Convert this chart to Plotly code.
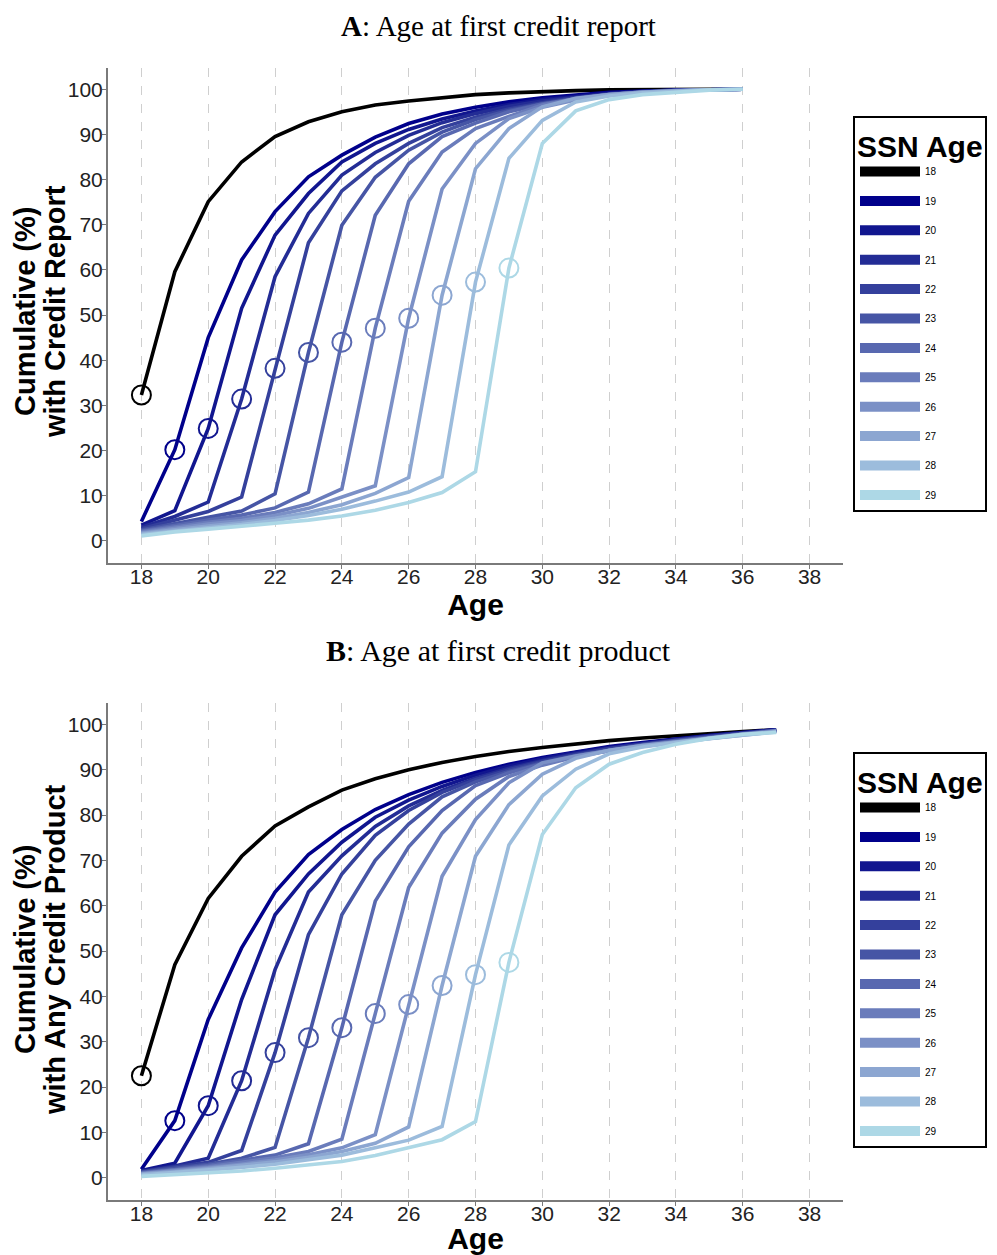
import plotly.graph_objects as go

# page offset of the plot div (default body margin)
OFF = 8
W, H = 997 - OFF, 1255 - OFF

ssn_ages = [18, 19, 20, 21, 22, 23, 24, 25, 26, 27, 28, 29]
colors = ["#000000", "#00008B", "#11168F", "#232C95", "#34409C", "#4655A5", "#5868B0",
          "#6A7CBB", "#7B90C6", "#8CA6D1", "#9CBCDC", "#ADD8E6"]

ages_a = list(range(18, 37))
report = {
    18: [32.3, 59.6, 75.1, 83.9, 89.5, 92.8, 95.0, 96.5, 97.4, 98.2, 98.8, 99.2, 99.5, 99.7, 99.85, 99.95, 100, 100, 100],
    19: [4.3, 20.2, 45.0, 62.2, 72.9, 80.6, 85.4, 89.4, 92.4, 94.5, 96.0, 97.2, 98.1, 98.8, 99.3, 99.6, 99.8, 99.9, 100],
    20: [3.5, 6.7, 24.9, 51.5, 67.7, 76.9, 83.9, 88.0, 91.1, 93.4, 95.2, 96.6, 97.7, 98.5, 99.1, 99.5, 99.8, 99.9, 100],
    21: [3.0, 5.4, 8.6, 31.4, 58.5, 72.5, 81.0, 86.0, 89.8, 92.6, 94.6, 96.2, 97.4, 98.3, 99.0, 99.5, 99.8, 99.9, 100],
    22: [2.7, 4.6, 6.5, 9.7, 38.2, 66.0, 77.5, 83.5, 88.0, 91.5, 93.8, 95.6, 97.0, 98.1, 98.9, 99.4, 99.7, 99.9, 100],
    23: [2.4, 3.9, 5.2, 6.6, 10.4, 41.7, 69.9, 80.5, 86.5, 90.5, 93.3, 95.3, 96.8, 97.9, 98.8, 99.4, 99.7, 99.9, 100],
    24: [2.2, 3.5, 4.6, 5.7, 7.3, 10.8, 44.0, 72.1, 83.5, 89.5, 92.5, 95.0, 96.7, 97.9, 98.8, 99.4, 99.7, 99.9, 100],
    25: [2.0, 3.1, 4.1, 5.0, 6.3, 8.2, 11.5, 47.1, 75.2, 86.1, 91.3, 94.0, 96.5, 97.9, 98.8, 99.4, 99.7, 99.9, 100],
    26: [1.8, 2.8, 3.7, 4.5, 5.6, 7.2, 9.6, 12.2, 49.3, 77.9, 88.0, 93.5, 96.0, 97.6, 98.6, 99.3, 99.7, 99.9, 100],
    27: [1.6, 2.5, 3.3, 4.0, 5.0, 6.3, 8.0, 10.5, 14.0, 54.4, 82.4, 91.3, 96.1, 98.0, 98.8, 99.3, 99.6, 99.9, 100],
    28: [1.4, 2.2, 2.9, 3.6, 4.5, 5.6, 7.0, 8.8, 10.8, 14.2, 57.3, 84.7, 93.1, 97.2, 98.5, 99.2, 99.6, 99.9, 100],
    29: [1.1, 2.0, 2.6, 3.2, 3.9, 4.6, 5.5, 6.8, 8.5, 10.7, 15.3, 60.4, 88.0, 95.2, 97.7, 98.8, 99.4, 99.8, 100],
}

ages_b = list(range(18, 38))
product = {
    18: [22.5, 47.0, 61.6, 70.9, 77.6, 81.8, 85.5, 88.0, 90.0, 91.6, 92.9, 94.0, 94.9, 95.7, 96.4, 97.0, 97.5, 98.0, 98.4, 98.8],
    19: [1.9, 12.6, 34.9, 50.7, 63.0, 71.3, 76.8, 81.2, 84.5, 87.2, 89.4, 91.2, 92.7, 94.0, 95.1, 96.0, 96.8, 97.5, 98.2, 98.8],
    20: [1.6, 3.2, 15.9, 39.3, 58.0, 67.0, 74.0, 79.5, 83.3, 86.3, 88.8, 90.8, 92.4, 93.8, 94.9, 95.9, 96.7, 97.5, 98.2, 98.8],
    21: [1.4, 2.6, 4.3, 21.4, 45.9, 63.0, 71.0, 77.5, 82.0, 85.4, 88.1, 90.3, 92.0, 93.5, 94.7, 95.7, 96.6, 97.4, 98.1, 98.7],
    22: [1.3, 2.3, 3.4, 6.0, 27.6, 53.6, 67.0, 75.5, 81.0, 85.0, 87.8, 90.0, 91.8, 93.3, 94.6, 95.6, 96.5, 97.3, 98.0, 98.7],
    23: [1.2, 2.0, 3.0, 4.3, 6.7, 30.9, 58.0, 70.0, 78.0, 84.0, 87.3, 89.6, 91.5, 93.1, 94.4, 95.5, 96.4, 97.2, 97.9, 98.6],
    24: [1.1, 1.8, 2.7, 3.8, 5.0, 7.5, 33.1, 61.0, 73.0, 81.0, 86.5, 89.3, 91.3, 93.0, 94.3, 95.4, 96.3, 97.1, 97.9, 98.6],
    25: [1.0, 1.6, 2.4, 3.4, 4.4, 5.8, 8.5, 36.2, 64.0, 76.0, 83.5, 88.5, 91.0, 92.8, 94.2, 95.3, 96.2, 97.0, 97.8, 98.5],
    26: [0.9, 1.5, 2.2, 3.0, 3.9, 5.1, 6.6, 9.5, 38.2, 66.5, 79.0, 87.1, 91.5, 93.0, 94.2, 95.2, 96.1, 97.0, 97.8, 98.5],
    27: [0.8, 1.3, 2.0, 2.7, 3.5, 4.5, 5.8, 7.6, 11.2, 42.4, 70.9, 82.3, 89.0, 92.5, 94.3, 95.3, 96.1, 96.9, 97.7, 98.4],
    28: [0.6, 1.1, 1.7, 2.3, 3.0, 3.9, 5.0, 6.6, 8.3, 11.3, 44.8, 73.4, 84.2, 90.1, 93.5, 95.0, 96.0, 96.9, 97.6, 98.3],
    29: [0.3, 0.7, 1.0, 1.5, 2.1, 2.8, 3.6, 4.9, 6.6, 8.4, 12.4, 47.5, 75.7, 86.0, 91.2, 93.8, 95.6, 96.9, 97.8, 98.2],
}

x_ticks = list(range(18, 40, 2))
y_ticks = list(range(0, 101, 10))

title_a = "<b>A</b>: Age at first credit report"
title_b = "<b>B</b>: Age at first credit product"
ytitle_a = ["<b>Cumulative (%)</b>", "<b>with Credit Report</b>"]
ytitle_b = ["<b>Cumulative (%)</b>", "<b>with Any Credit Product</b>"]

fig = go.Figure()

def add_panel(ages, data, xa, ya, legend_name):
    for c, col in zip(ssn_ages, colors):
        vals = data[c]
        fig.add_trace(go.Scatter(x=ages, y=vals, mode="lines", xaxis=xa, yaxis=ya,
                                 line=dict(color=col, width=3.6), showlegend=False,
                                 hoverinfo="skip"))
        i = ages.index(c)
        fig.add_trace(go.Scatter(x=[c], y=[vals[i]], mode="markers", xaxis=xa, yaxis=ya,
                                 marker=dict(symbol="circle-open", size=19, color=col,
                                             line=dict(color=col, width=2)),
                                 showlegend=False, hoverinfo="skip"))
        fig.add_trace(go.Scatter(x=[None], y=[None], mode="lines", xaxis=xa, yaxis=ya,
                                 line=dict(color=col, width=10), name=str(c),
                                 legend=legend_name, legendgroup=legend_name + str(c),
                                 showlegend=True))

add_panel(ages_a, report, "x", "y", "legend")
add_panel(ages_b, product, "x2", "y2", "legend2")

def px(x):
    return (x - OFF) / W

def py(y):
    return 1 - (y - OFF) / H

xd = [px(108), px(843)]
def ydom(top, bottom):
    return [py(bottom), py(top)]

sans = "Liberation Sans, Arial, sans-serif"
axis_font = dict(family=sans, size=21, color="#222222")
common_x = dict(range=[17, 39], tickvals=x_ticks, showgrid=True, gridcolor="#cfcfcf",
                griddash="dash", gridwidth=1, zeroline=False, showline=True,
                linecolor="#7a7a7a", linewidth=2, ticks="outside", ticklen=4,
                tickcolor="#7a7a7a", tickfont=axis_font, domain=xd, automargin=False,
                ticklabelstandoff=-10,
                title=dict(text="<b>Age</b>", font=dict(family=sans, size=30, color="black"),
                           standoff=4))
common_y = dict(range=[-4.9, 104.7], tickvals=y_ticks, showgrid=False, zeroline=False,
                showline=True, linecolor="#7a7a7a", linewidth=2, ticks="outside", ticklen=4,
                tickcolor="#7a7a7a", tickfont=axis_font, automargin=False,
                ticklabelstandoff=-5)

legend_common = dict(x=px(853), xanchor="left", yanchor="top",
                     bordercolor="black", borderwidth=2, bgcolor="white",
                     title=dict(text="<b>SSN Age</b>", font=dict(family=sans, size=30, color="black")),
                     font=dict(family=sans, size=10, color="black"),
                     tracegroupgap=10.4, itemwidth=60)

annotations = [
    dict(text=title_a, x=px(498), y=py(8), xref="paper", yref="paper", showarrow=False,
         xanchor="center", yanchor="top",
         font=dict(family="Liberation Serif, serif", size=29, color="black")),
    dict(text=title_b, x=px(498), y=py(651), xref="paper", yref="paper", showarrow=False,
         xanchor="center", yanchor="middle",
         font=dict(family="Liberation Serif, serif", size=30, color="black")),
]
for lines, yc in ((ytitle_a, 312), (ytitle_b, 950)):
    for txt, xc in zip(lines, (25, 55)):
        annotations.append(dict(text=txt, x=px(xc), y=py(yc), xref="paper", yref="paper",
                                showarrow=False, textangle=-90, xanchor="center", yanchor="middle",
                                font=dict(family=sans, size=29, color="black")))

fig.update_layout(
    width=W, height=H,
    margin=dict(l=0, r=0, t=0, b=0),
    paper_bgcolor="white", plot_bgcolor="white",
    xaxis=dict(**common_x, anchor="y"),
    yaxis=dict(**common_y, anchor="x", domain=ydom(68, 563)),
    xaxis2=dict(**common_x, anchor="y2"),
    yaxis2=dict(**common_y, anchor="x2", domain=ydom(703, 1200)),
    legend=dict(**legend_common, y=py(116)),
    legend2=dict(**legend_common, y=py(752)),
    annotations=annotations,
)

fig.write_html("out.html")
